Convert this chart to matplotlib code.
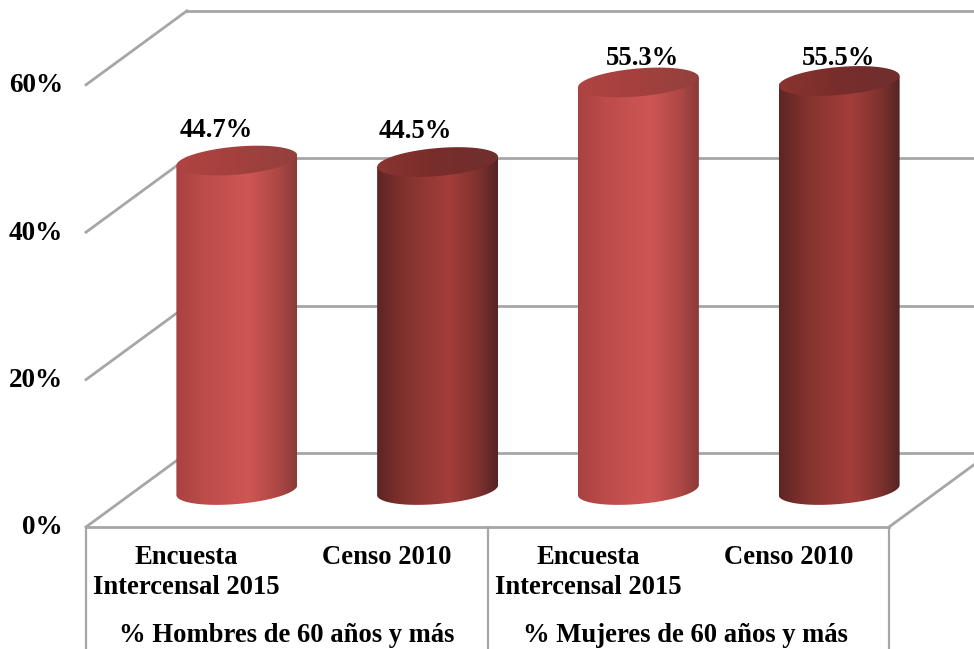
import numpy as np
import matplotlib
matplotlib.use('Agg')
import matplotlib.pyplot as plt
from matplotlib.colors import LinearSegmentedColormap
from matplotlib.patches import PathPatch
from matplotlib.path import Path

# chart data
categories = ['Encuesta\nIntercensal 2015', 'Censo 2010', 'Encuesta\nIntercensal 2015', 'Censo 2010']
groups = ['% Hombres de 60 años y más', '% Mujeres de 60 años y más']
values = [44.7, 44.5, 55.3, 55.5]
value_labels = ['44.7%', '44.5%', '55.3%', '55.5%']
y_ticks = [0, 20, 40, 60]
y_tick_labels = ['0%', '20%', '40%', '60%']

# oblique projection of the 3D box, in pixels
FRONT_LEFT = 86
FRONT_RIGHT = 889
FLOOR_Y = 527
PX_PER_PCT = 7.37
DEPTH_X = 101
DEPTH_Y = 74
RADIUS = 60.5
CAP_B = 14
CAP_S = 5

GRID = '#a6a6a6'
FONT = 'Liberation Serif'

light = LinearSegmentedColormap.from_list('light', [(0, '#a84240'), (0.25, '#bd4d4a'), (0.6, '#ce5654'), (0.85, '#ad4744'), (1, '#8a3b39')])
dark = LinearSegmentedColormap.from_list('dark', [(0, '#5e2524'), (0.25, '#85332f'), (0.6, '#a33e3b'), (0.85, '#7c312e'), (1, '#552423')])
light_top = LinearSegmentedColormap.from_list('light_top', ['#b04442', '#a4403e', '#93403e'])
dark_top = LinearSegmentedColormap.from_list('dark_top', ['#8a3431', '#782d2b', '#702f2d'])


def val_y(v):
    return FLOOR_Y - v * PX_PER_PCT


def cap_points(cx, cy, start, stop):
    t = np.linspace(start, stop, 80)
    return np.column_stack([cx + RADIUS * np.cos(t), cy + CAP_B * np.sin(t) - CAP_S * np.cos(t)])


def fill_gradient(ax, verts, cmap, x0, x1, y0, y1, z):
    patch = PathPatch(Path(np.vstack([verts, verts[:1]])), fc='none', ec='none', zorder=z)
    ax.add_patch(patch)
    grad = np.linspace(0, 1, 256).reshape(1, -1)
    im = ax.imshow(grad, cmap=cmap, extent=(x0, x1, y1, y0), aspect='auto', zorder=z, interpolation='bilinear')
    im.set_clip_path(patch)


def draw_cylinder(ax, cx, value, cmap, top_cmap):
    base = val_y(0) - DEPTH_Y / 2
    top = base - value * PX_PER_PCT
    lower = cap_points(cx, base, np.pi, 0)
    body = np.vstack([lower, [[cx + RADIUS, top - CAP_S]], [[cx - RADIUS, top + CAP_S]]])
    fill_gradient(ax, body, cmap, cx - RADIUS, cx + RADIUS, top - 20, base + 20, 3)
    fill_gradient(ax, cap_points(cx, top, 0, 2 * np.pi), top_cmap, cx - RADIUS, cx + RADIUS, top - 20, top + 20, 4)
    return top


fig = plt.figure(figsize=(9.74, 6.49), dpi=100)
ax = fig.add_axes([0, 0, 1, 1])

# back wall, side wall and floor
for v in y_ticks:
    y = val_y(v)
    ax.plot([FRONT_LEFT, FRONT_LEFT + DEPTH_X], [y, y - DEPTH_Y], color=GRID, lw=2, zorder=1)
    ax.plot([FRONT_LEFT + DEPTH_X, 974], [y - DEPTH_Y, y - DEPTH_Y], color=GRID, lw=2, zorder=1)
ax.plot([FRONT_LEFT, FRONT_RIGHT], [FLOOR_Y, FLOOR_Y], color=GRID, lw=2, zorder=1)
ax.plot([FRONT_RIGHT, 974], [FLOOR_Y, FLOOR_Y - DEPTH_Y * 85 / DEPTH_X], color=GRID, lw=2, zorder=1)

# table style axis below the floor
group_w = (FRONT_RIGHT - FRONT_LEFT) / len(groups)
for i in range(len(groups) + 1):
    x = FRONT_LEFT + i * group_w
    ax.plot([x, x], [FLOOR_Y, 649], color=GRID, lw=1.6, zorder=1)

for v, lab in zip(y_ticks, y_tick_labels):
    ax.text(63, val_y(v) + 1, lab, ha='right', va='center', family=FONT, weight='bold', fontsize=19.5, color='black')

cat_w = group_w / 2
cat_text_x = [186, 387, 588, 789]
group_text_x = [287, 685]
label_dx = [-21, -22, 4, -1]
label_dy = [30, 31, 24, 22]
for i, v in enumerate(values):
    cx = FRONT_LEFT + DEPTH_X / 2 + (i + 0.5) * cat_w
    cmap, top_cmap = (light, light_top) if i % 2 == 0 else (dark, dark_top)
    top = draw_cylinder(ax, cx, v, cmap, top_cmap)
    ax.text(cx + label_dx[i], top - label_dy[i], value_labels[i], ha='center', va='center',
            family=FONT, weight='bold', fontsize=19.2, color='black', zorder=6)

for i, cat in enumerate(categories):
    lines = cat.split('\n')
    for k, line in enumerate(lines):
        ax.text(cat_text_x[i], 557 + 31 * k, line, ha='center', va='center', family=FONT, weight='bold', fontsize=19.2, color='black')

for i, g in enumerate(groups):
    ax.text(group_text_x[i], 635, g, ha='center', va='center', family=FONT, weight='bold', fontsize=19.2, color='black')

ax.set_xlim(0, 974)
ax.set_ylim(649, 0)
ax.axis('off')

plt.savefig('out.png', dpi=100)
